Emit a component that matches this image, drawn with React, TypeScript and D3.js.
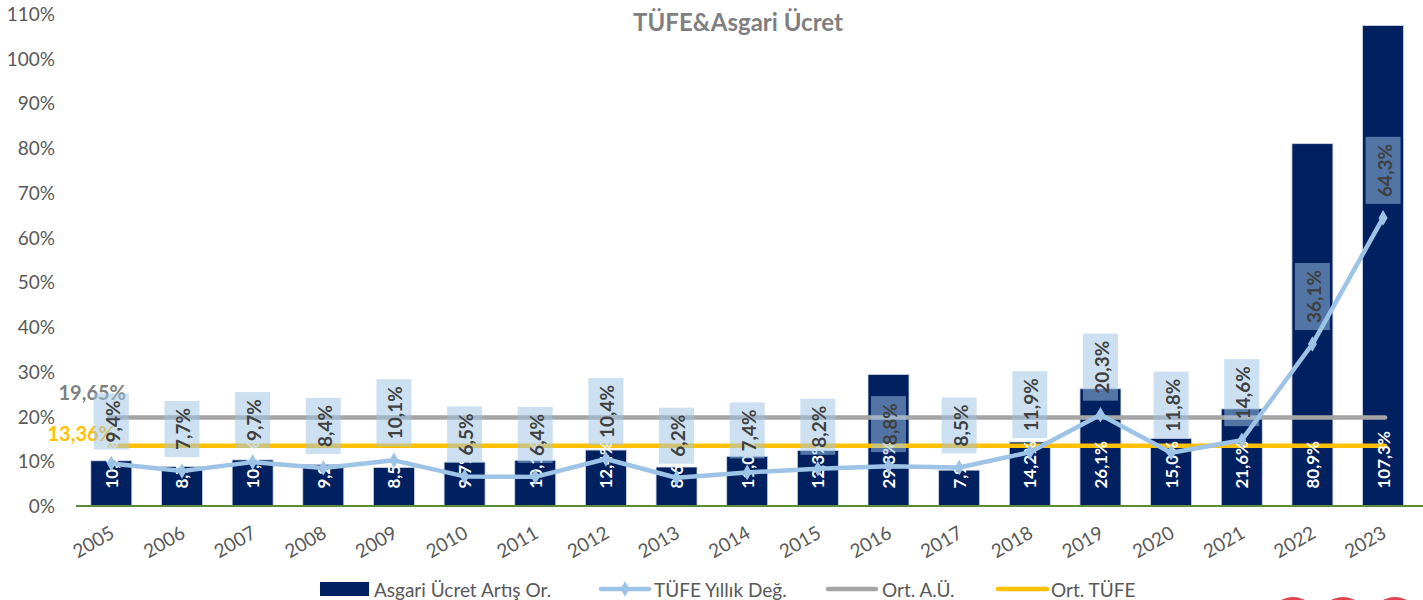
import { useMemo } from "react";
import * as d3 from "d3";

const years = ["2005", "2006", "2007", "2008", "2009", "2010", "2011", "2012", "2013", "2014", "2015", "2016", "2017", "2018", "2019", "2020", "2021", "2022", "2023"];
// Asgari ücret artış oranı (%)
const wageRise = [10.0, 8.7, 10.2, 9.2, 8.5, 9.7, 10.1, 12.4, 8.6, 11.0, 12.3, 29.3, 7.9, 14.2, 26.1, 15.0, 21.6, 80.9, 107.3];
// TÜFE yıllık değişim (%)
const cpi = [9.4, 7.7, 9.7, 8.4, 10.1, 6.5, 6.4, 10.4, 6.2, 7.4, 8.2, 8.8, 8.5, 11.9, 20.3, 11.8, 14.6, 36.1, 64.3];
const avgWage = 19.65;
const avgCpi = 13.36;
const yTicks = [0, 10, 20, 30, 40, 50, 60, 70, 80, 90, 100, 110];

const W = 1423;
const H = 600;
const FONT = "Lato, 'Open Sans', sans-serif";

const NAVY = "#002060";
const LIGHT = "#9dc3e6";
const GREY = "#a5a5a5";
const GOLD = "#ffc000";
const TXT = "#595959";

const fmt = (v: number, d = 1) => v.toFixed(d).replace(".", ",") + "%";

let ctx: CanvasRenderingContext2D | null = null;
const measure = (s: string, font: string) => {
  if (!ctx) ctx = document.createElement("canvas").getContext("2d");
  if (!ctx) return s.length * 10;
  ctx.font = font;
  return ctx.measureText(s).width;
};

export default function App() {
  const x = useMemo(
    () => d3.scaleBand<string>().domain(years).range([76, 1418.4]).paddingInner(0.42).paddingOuter(0.21),
    []
  );
  const y = useMemo(() => d3.scaleLinear().domain([0, 110]).range([505.5, 13.5]), []);
  const cx = (i: number) => (x(years[i]) ?? 0) + x.bandwidth() / 2;

  const line = d3
    .line<number>()
    .x((_, i) => cx(i))
    .y((d) => y(d));

  const diamond = d3.symbol(d3.symbolDiamond, 70)() ?? "";
  const firstX = cx(0);
  const lastX = cx(years.length - 1);

  return (
    <svg width={W} height={H} style={{ position: "absolute", left: 0, top: 0, fontFamily: FONT }}>
      <rect width={W} height={H} fill="#fff" />

      {/* title */}
      <text x={738} y={31} textAnchor="middle" fontSize={24} fontWeight={700} fill="#7f7f7f">
        TÜFE&amp;Asgari Ücret
      </text>

      {/* y axis labels */}
      {yTicks.map((t) => (
        <text key={t} x={55} y={y(t)} textAnchor="end" dominantBaseline="central" fontSize={19} fill={TXT}>
          {t}%
        </text>
      ))}

      {/* bars */}
      {wageRise.map((v, i) => (
        <rect
          key={years[i]}
          x={x(years[i])}
          y={y(v)}
          width={x.bandwidth()}
          height={y(0) - y(v)}
          fill={NAVY}
          stroke="#d0d8e6"
          strokeWidth={0.8}
        />
      ))}

      {/* x axis */}
      <line x1={76} x2={1423} y1={y(0) + 0.5} y2={y(0) + 0.5} stroke="#5b8c3a" strokeWidth={2} />
      {years.map((yr, i) => (
        <text
          key={yr}
          transform={`translate(${cx(i) - 3},${y(0) + 18}) rotate(-30)`}
          textAnchor="end"
          dominantBaseline="hanging"
          fontSize={19}
          fill={TXT}
        >
          {yr}
        </text>
      ))}

      {/* average lines */}
      <line x1={firstX - 2} x2={lastX + 2} y1={y(avgWage)} y2={y(avgWage)} stroke={GREY} strokeWidth={4.5} strokeLinecap="round" />
      <line x1={firstX - 2} x2={lastX + 2} y1={y(avgCpi)} y2={y(avgCpi)} stroke={GOLD} strokeWidth={4.5} strokeLinecap="round" />
      <text x={126} y={y(avgWage) - 26} textAnchor="end" dominantBaseline="central" fontSize={20} fontWeight={700} fill="#808080">
        {fmt(avgWage, 2)}
      </text>
      <text x={115} y={y(avgCpi) - 13} textAnchor="end" dominantBaseline="central" fontSize={20} fontWeight={700} fill={GOLD}>
        {fmt(avgCpi, 2)}
      </text>

      {/* bar labels (inside base) */}
      {wageRise.map((v, i) => (
        <text
          key={years[i]}
          transform={`translate(${cx(i)},${y(0) - 17}) rotate(-90)`}
          textAnchor="start"
          dominantBaseline="central"
          fontSize={17}
          fontWeight={700}
          fill="#fff"
        >
          {fmt(v)}
        </text>
      ))}

      {/* TÜFE line */}
      <path d={line(cpi) ?? ""} fill="none" stroke={LIGHT} strokeWidth={4.5} strokeLinejoin="round" />
      {cpi.map((v, i) => (
        <path key={years[i]} d={diamond} transform={`translate(${cx(i)},${y(v)})`} fill={LIGHT} />
      ))}

      {/* TÜFE labels */}
      {cpi.map((v, i) => {
        const s = fmt(v);
        const len = measure(s, `700 19px ${FONT}`);
        const h = len + 14;
        const bottom = y(v) - 14;
        return (
          <g key={years[i]}>
            <rect x={cx(i) - 17.5} y={bottom - h} width={35} height={h} fill={LIGHT} fillOpacity={0.52} />
            <text
              transform={`translate(${cx(i) + 1},${bottom - h / 2}) rotate(-90)`}
              textAnchor="middle"
              dominantBaseline="central"
              fontSize={19}
              fontWeight={700}
              fill="#404040"
            >
              {s}
            </text>
          </g>
        );
      })}

      {/* legend */}
      <g fontSize={19} fill={TXT}>
        <rect x={320} y={582} width={49} height={14} fill={NAVY} />
        <text x={374} y={589} dominantBaseline="central">Asgari Ücret Artış Or.</text>
        <line x1={601} x2={649} y1={589} y2={589} stroke={LIGHT} strokeWidth={4.5} strokeLinecap="round" />
        <path d={diamond} transform="translate(625,589)" fill={LIGHT} />
        <text x={654} y={589} dominantBaseline="central">TÜFE Yıllık Değ.</text>
        <line x1={828} x2={876} y1={589} y2={589} stroke={GREY} strokeWidth={4.5} strokeLinecap="round" />
        <text x={882} y={589} dominantBaseline="central">Ort. A.Ü.</text>
        <line x1={998} x2={1047} y1={589} y2={589} stroke={GOLD} strokeWidth={4.5} strokeLinecap="round" />
        <text x={1051} y={589} dominantBaseline="central">Ort. TÜFE</text>
      </g>

      {/* logo fragments at bottom edge */}
      {[1293, 1343, 1395].map((c) => (
        <circle key={c} cx={c} cy={622} r={25} fill="#e0424f" />
      ))}
    </svg>
  );
}
